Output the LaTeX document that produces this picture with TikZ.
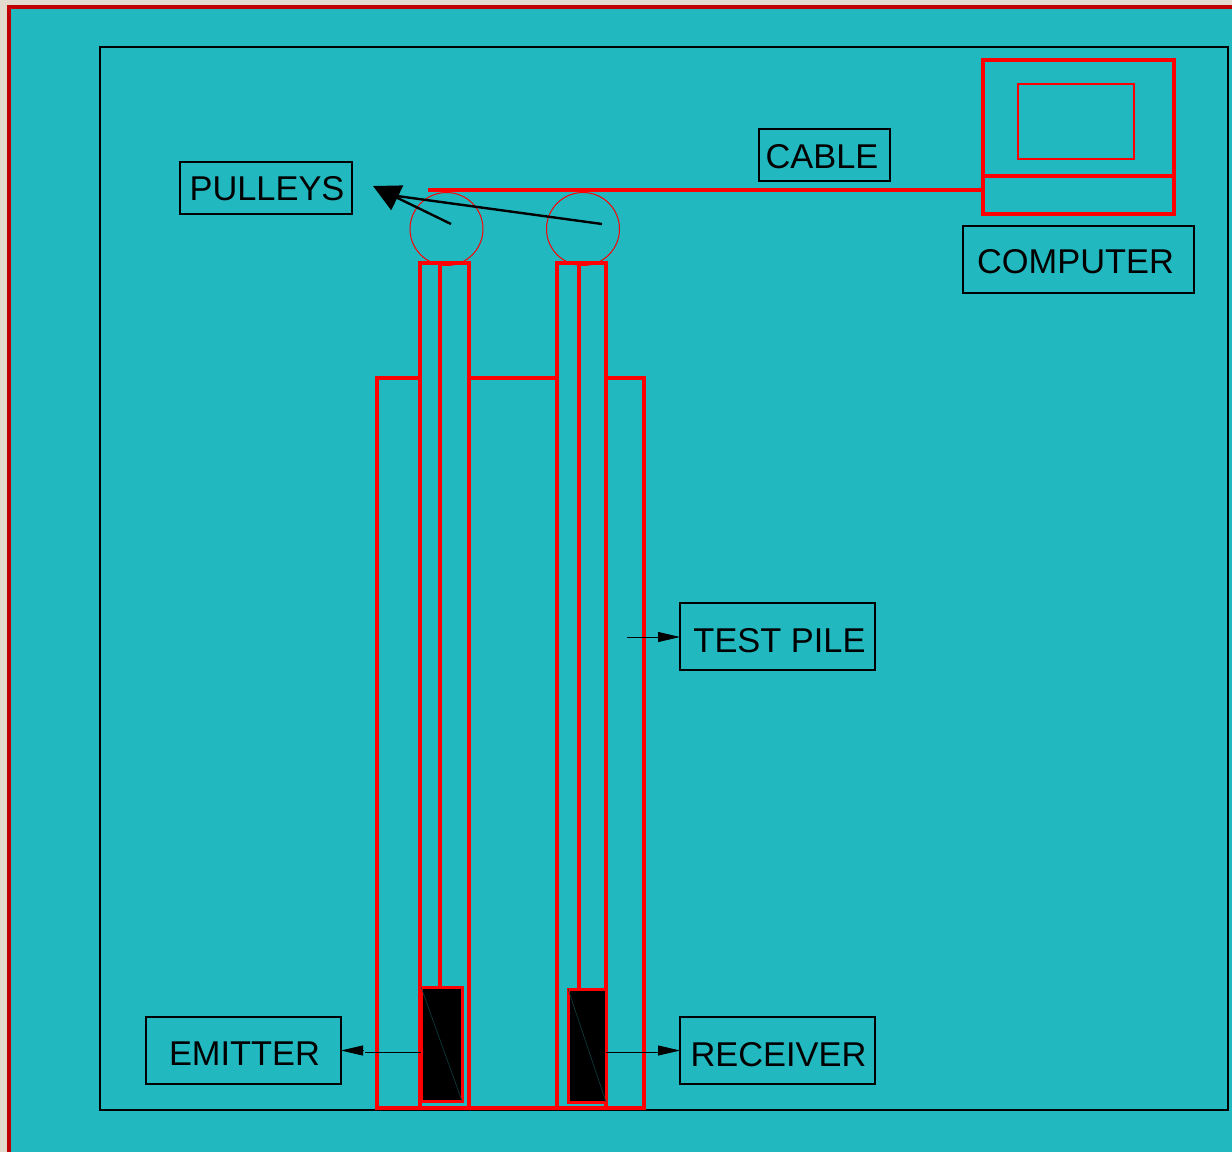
\documentclass[tikz,border=0pt]{standalone}
\usepackage{fontspec}
\setmainfont{Liberation Sans}
\usetikzlibrary{arrows.meta}
\definecolor{pagebg}{HTML}{E2DACD}
\definecolor{teal1}{HTML}{22B8C0}
\definecolor{frame1}{HTML}{C00000}
\definecolor{red1}{HTML}{FF0000}
\definecolor{faint}{HTML}{0F3F42}
\newcommand\lbltext[3]{\hspace*{#1}\raisebox{#2}[0pt][0pt]{#3}}
\tikzset{
  redthick/.style={draw=red1,line width=2pt,line join=miter},
  redmid/.style={draw=red1,line width=1.35pt},
  redthin/.style={draw=red1,line width=0.5pt},
  blackbox/.style={redthick,fill=black,line width=1.5pt,outer sep=0pt},
  lbl/.style={draw=black,line width=0.75pt,inner sep=0pt,outer sep=0pt,font=\fontsize{17.2pt}{20pt}\selectfont,text=black,align=center},
  smallline/.style={draw=black,line width=0.4pt},
  smallarrow/.style={smallline,-{Triangle[length=11pt,width=5pt]}},
  pullarrow/.style={draw=black,line width=1.2pt},
}
\begin{document}
\begin{tikzpicture}[x=0.5pt,y=-0.5pt]
\useasboundingbox (0,0) rectangle (1232,1152);
\fill[pagebg] (0,0) rectangle (1232,1152);
\fill[teal1] (10,7) rectangle (1232,1152);
\draw[frame1,line width=2pt] (9.3,1152) -- (9.3,7) -- (1232,7);
\draw[black,line width=1pt] (100,47) rectangle (1228,1110);

% pile and tubes
\draw[redthick] (420,378) -- (377,378) -- (377,1108) -- (644,1108) -- (644,378) -- (606,378);
\draw[redthick] (469,378) -- (557,378);
\draw[redthick] (420,263) rectangle (469,1108);
\draw[redthick] (557,263) rectangle (606,1108);

% wires
\coordinate (wireAtop) at (440,263);
\coordinate (wireBtop) at (579,263);
\node[blackbox,minimum width=20.5pt,minimum height=57pt,inner sep=0pt,anchor=north west] (emit) at (421,987) {};
\node[blackbox,minimum width=19pt,minimum height=56.5pt,inner sep=0pt,anchor=north west] (recv) at (568,989) {};
\draw[redthick] (wireAtop) -- (wireAtop |- emit.north);
\draw[redthick] (wireBtop) -- (wireBtop |- recv.north);
\draw[faint,line width=0.3pt] (emit.north west) -- (emit.south east);
\draw[faint,line width=0.3pt] (recv.north west) -- (recv.south east);

% pulleys
\node[circle,redthin,minimum size=36.5pt,inner sep=0pt] (pulleyA) at (446.5,229) {};
\node[circle,redthin,minimum size=36.5pt,inner sep=0pt] (pulleyB) at (583,229) {};

% computer
\node[redthick,outer sep=0pt,minimum width=95.5pt,minimum height=77pt,inner sep=0pt,anchor=north west] (computer) at (983,60) {};
\draw[redthick] (983,176) -- (1174,176);
\node[redmid,outer sep=0pt,minimum width=58pt,minimum height=37.5pt,inner sep=0pt,anchor=north west] (screen) at (1018,84) {};
\coordinate (cableEnd) at (428,190);
\draw[redthick] (cableEnd) -- (cableEnd -| computer.west);

% labels
\node[lbl,minimum width=86pt,minimum height=26pt,anchor=north west] (pulleys) at (180,162) {\lbltext{1pt}{-6.2pt}{PULLEYS}};
\node[lbl,minimum width=65.5pt,minimum height=26pt,anchor=north west] (cable) at (759,129) {\lbltext{-2.5pt}{-6.7pt}{CABLE}};
\node[lbl,minimum width=115.5pt,minimum height=33.5pt,anchor=north west] (complabel) at (963,226) {\lbltext{-3pt}{-7.2pt}{COMPUTER}};
\node[lbl,minimum width=97.5pt,minimum height=33.5pt,anchor=north west] (testpile) at (680,603) {\lbltext{2pt}{-7.9pt}{TEST PILE}};
\node[lbl,minimum width=97.5pt,minimum height=33.5pt,anchor=north west] (emitter) at (146,1017) {\lbltext{1pt}{-7.7pt}{EMITTER}};
\node[lbl,minimum width=97.5pt,minimum height=33.5pt,anchor=north west] (receiver) at (680,1017) {\lbltext{1pt}{-8.2pt}{RECEIVER}};

% arrows
\coordinate (tpStart) at (627,637);
\draw[smallarrow] (tpStart) -- (testpile.west |- tpStart);
\coordinate (emGap) at (365,1052);
\coordinate (emHead) at (364,1050.5);
\coordinate (reGap) at (658,1052);
\coordinate (reHead) at (658,1050.5);
\draw[smallline] (emit.west |- emGap) -- (emGap);
\draw[smallarrow] (emHead) -- (emitter.east);
\draw[smallline] (recv.east |- reGap) -- (reGap);
\draw[smallarrow] (reHead) -- (receiver.west);
\coordinate (pA) at (451,224);
\coordinate (pB) at (602,224);
\coordinate (pTip) at (373,186);
\coordinate (pJoin) at (397,196);
\draw[pullarrow,-{Triangle[length=13.5pt,width=13.5pt]}] (pA) -- (pTip);
\draw[pullarrow] (pB) -- (pJoin);
\end{tikzpicture}
\end{document}
